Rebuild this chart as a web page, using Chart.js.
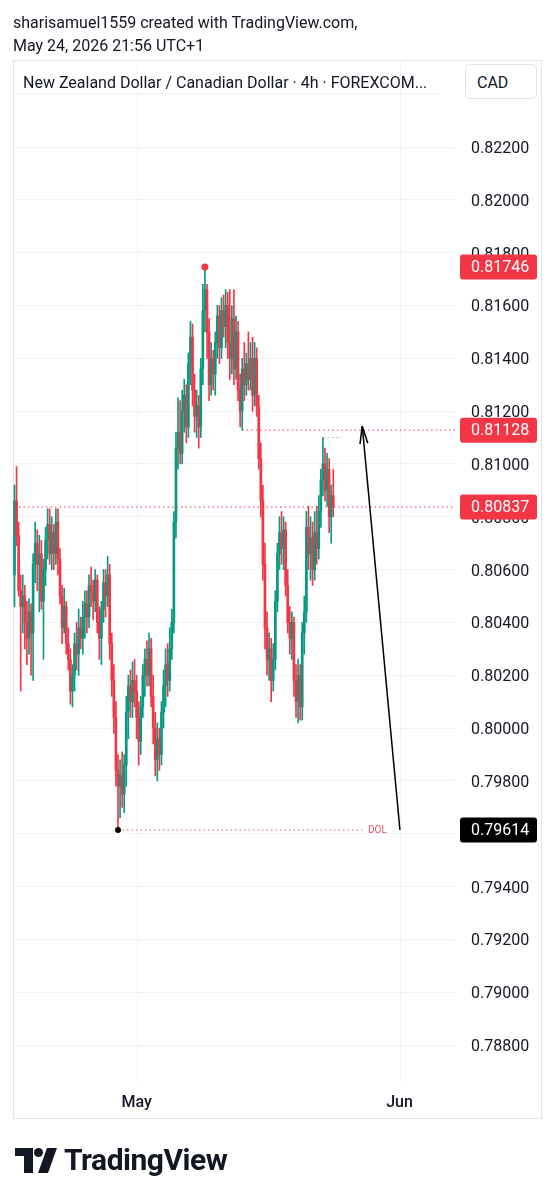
<!DOCTYPE html>
<html><head><meta charset="utf-8">
<script src="https://cdn.jsdelivr.net/npm/chart.js@4.4.1/dist/chart.umd.min.js"></script>
<style>
html,body{margin:0;padding:0;background:#fff;width:556px;height:1200px;overflow:hidden;font-family:Roboto,sans-serif;}
#wrap{position:relative;width:556px;height:1200px;}
#c{position:absolute;left:0;top:0;}
.t{position:absolute;white-space:nowrap;color:#131722;}
</style></head><body>
<div id="wrap">
<canvas id="c" width="556" height="1200"></canvas>
<div class="t" style="left:13px;top:11px;font-size:16px;line-height:23px;">sharisamuel1559 created with TradingView.com,<br>May 24, 2026 21:56 UTC+1</div>
<div class="t" style="left:23px;top:73px;font-size:16px;line-height:20px;">New Zealand Dollar / Canadian Dollar · 4h · FOREXCOM...</div>
<div class="t" style="left:465px;top:64px;width:70px;height:33px;border:1px solid #e0e3eb;border-radius:5px;font-size:16px;line-height:35px;text-indent:11px;background:#fff;">CAD</div>
<svg style="position:absolute;left:15px;top:1148px" width="42" height="25" viewBox="0 0 42 25">
 <path d="M0 0H18V25H9V8H0Z" fill="#131722"/>
 <circle cx="23.5" cy="4.5" r="4.5" fill="#131722"/>
 <path d="M32 0H42L33 25H23Z" fill="#131722"/>
</svg>
<div class="t" style="left:64px;top:1143px;font-size:30px;line-height:34px;font-weight:700;letter-spacing:-0.5px;">TradingView</div>
</div>
<script>
const opens = [0.8058,0.8086,0.8073,0.8052,0.8046,0.8050,0.8040,0.8034,0.8044,0.8036,
0.8062,0.8070,0.8062,0.8066,0.8048,0.8060,0.8071,0.8077,0.8066,0.8074,
0.8066,0.8078,0.8064,0.8050,0.8038,0.8046,0.8032,0.8026,0.8014,0.8020,
0.8032,0.8028,0.8038,0.8034,0.8042,0.8047,0.8042,0.8054,0.8052,0.8048,
0.8056,0.8040,0.8034,0.8045,0.8055,0.8050,0.8058,0.8032,0.8018,0.8004,
0.7984,0.7978,0.7982,0.7975,0.7986,0.8006,0.8016,0.8010,0.8018,0.8014,
0.8004,0.7995,0.8008,0.8020,0.8026,0.8020,0.8030,0.8012,0.8000,0.7988,
0.7996,0.7990,0.8006,0.8016,0.8024,0.8018,0.8030,0.8040,0.8078,0.8106,
0.8112,0.8104,0.8120,0.8126,0.8114,0.8138,0.8148,0.8128,0.8118,0.8122,
0.8114,0.8136,0.8158,0.8166,0.8150,0.8130,0.8140,0.8134,0.8146,0.8156,
0.8144,0.8158,0.8152,0.8160,0.8146,0.8140,0.8155,0.8136,0.8150,0.8128,
0.8120,0.8136,0.8130,0.8138,0.8132,0.8140,0.8126,0.8140,0.8122,0.8102,
0.8086,0.8062,0.8038,0.8026,0.8030,0.8018,0.8026,0.8048,0.8066,0.8074,
0.8068,0.8075,0.8054,0.8040,0.8034,0.8040,0.8018,0.8010,0.8020,0.8008,
0.8036,0.8044,0.8076,0.8066,0.8072,0.8060,0.8074,0.8068,0.8082,0.8094,
0.8100,0.8090,0.8098,0.8080,0.8088];
const highs = [0.8092,0.8099,0.8078,0.8058,0.8058,0.8054,0.8048,0.8049,0.8047,0.8066,
0.8078,0.8075,0.8073,0.8071,0.8064,0.8076,0.8083,0.8083,0.8080,0.8077,
0.8083,0.8083,0.8068,0.8054,0.8053,0.8048,0.8038,0.8030,0.8024,0.8036,
0.8040,0.8045,0.8042,0.8048,0.8052,0.8052,0.8058,0.8061,0.8056,0.8060,
0.8058,0.8046,0.8048,0.8060,0.8060,0.8065,0.8062,0.8036,0.8024,0.8010,
0.7990,0.7988,0.7991,0.7990,0.8012,0.8020,0.8022,0.8025,0.8026,0.8020,
0.8010,0.8012,0.8024,0.8030,0.8033,0.8036,0.8034,0.8020,0.8006,0.8002,
0.8000,0.8010,0.8022,0.8030,0.8032,0.8038,0.8045,0.8082,0.8112,0.8125,
0.8124,0.8128,0.8132,0.8130,0.8142,0.8154,0.8153,0.8134,0.8128,0.8126,
0.8140,0.8168,0.81746,0.8168,0.8155,0.8146,0.8143,0.8150,0.8160,0.8160,
0.8163,0.8164,0.8166,0.8165,0.8166,0.8160,0.8166,0.8156,0.8154,0.8134,
0.8140,0.8146,0.8142,0.8150,0.8146,0.8148,0.8146,0.8144,0.8126,0.8108,
0.8092,0.8070,0.8044,0.8036,0.8034,0.8032,0.8052,0.8070,0.8080,0.8082,
0.8080,0.8078,0.8060,0.8046,0.8044,0.8042,0.8024,0.8026,0.8024,0.8040,
0.8050,0.8082,0.8084,0.8080,0.8078,0.8082,0.8084,0.8088,0.8098,0.8110,
0.8106,0.8104,0.8102,0.8092,0.8098];
const lows = [0.8046,0.8069,0.8050,0.8014,0.8036,0.8030,0.8024,0.8028,0.8020,0.8018,
0.8055,0.8052,0.8044,0.8045,0.8026,0.8054,0.8064,0.8062,0.8060,0.8060,
0.8062,0.8058,0.8047,0.8032,0.8036,0.8028,0.8022,0.8009,0.8008,0.8014,
0.8022,0.8020,0.8030,0.8028,0.8034,0.8036,0.8038,0.8046,0.8041,0.8044,
0.8036,0.8026,0.8024,0.8040,0.8042,0.8046,0.8026,0.8012,0.7998,0.7978,
0.79614,0.7966,0.7970,0.7968,0.7978,0.7996,0.8004,0.8004,0.8008,0.7996,
0.7986,0.7990,0.8004,0.8012,0.8016,0.8016,0.8008,0.7994,0.7982,0.7980,
0.7984,0.7986,0.8000,0.8008,0.8012,0.8014,0.8026,0.8036,0.8072,0.8098,
0.8100,0.8100,0.8112,0.8108,0.8110,0.8130,0.8122,0.8112,0.8110,0.8106,
0.8110,0.8130,0.8150,0.8140,0.8124,0.8126,0.8128,0.8126,0.8140,0.8138,
0.8140,0.8148,0.8144,0.8140,0.8132,0.8134,0.8130,0.8132,0.8124,0.8114,
0.81128,0.8124,0.8126,0.8128,0.8128,0.8120,0.8122,0.8118,0.8098,0.8080,
0.8056,0.8030,0.8020,0.8018,0.8010,0.8014,0.8022,0.8044,0.8060,0.8062,
0.8060,0.8050,0.8036,0.8028,0.8026,0.8012,0.8004,0.8002,0.8003,0.8003,
0.8028,0.8040,0.8060,0.8056,0.8054,0.8056,0.8062,0.8064,0.8076,0.8088,
0.8086,0.8084,0.8074,0.8070,0.8080];
const closes = [0.8086,0.8073,0.8052,0.8046,0.8050,0.8040,0.8034,0.8044,0.8036,0.8062,
0.8070,0.8062,0.8066,0.8048,0.8060,0.8071,0.8077,0.8066,0.8074,0.8066,
0.8078,0.8064,0.8050,0.8038,0.8046,0.8032,0.8026,0.8014,0.8020,0.8032,
0.8028,0.8038,0.8034,0.8042,0.8047,0.8042,0.8054,0.8052,0.8048,0.8056,
0.8040,0.8034,0.8045,0.8055,0.8050,0.8058,0.8032,0.8018,0.8004,0.7984,
0.7978,0.7982,0.7975,0.7986,0.8006,0.8016,0.8010,0.8018,0.8014,0.8004,
0.7995,0.8008,0.8020,0.8026,0.8020,0.8030,0.8012,0.8000,0.7988,0.7996,
0.7990,0.8006,0.8016,0.8024,0.8018,0.8030,0.8040,0.8078,0.8106,0.8112,
0.8104,0.8120,0.8126,0.8114,0.8138,0.8148,0.8128,0.8118,0.8122,0.8114,
0.8136,0.8158,0.8166,0.8150,0.8130,0.8140,0.8134,0.8146,0.8156,0.8144,
0.8158,0.8152,0.8160,0.8146,0.8140,0.8155,0.8136,0.8150,0.8128,0.8120,
0.8136,0.8130,0.8138,0.8132,0.8140,0.8126,0.8140,0.8122,0.8102,0.8086,
0.8062,0.8038,0.8026,0.8030,0.8018,0.8026,0.8048,0.8066,0.8074,0.8068,
0.8075,0.8054,0.8040,0.8034,0.8040,0.8018,0.8010,0.8020,0.8008,0.8036,
0.8044,0.8076,0.8066,0.8072,0.8060,0.8074,0.8068,0.8082,0.8094,0.8100,
0.8090,0.8098,0.8080,0.8088,0.80837];

const priceTicks = [0.788,0.790,0.792,0.794,0.796,0.798,0.800,0.802,0.804,0.806,0.808,0.810,0.812,0.814,0.816,0.818,0.820,0.822];
const timeLabels = ['May','Jun'];
const timeLabelIdx = [59,186];
const lastPrice = 0.80837;
const peakPrice = 0.81746, peakIdx = 92;
const lowPrice = 0.79614, lowIdx = 50;
const levelPrice = 0.81128, levelStartIdx = 110;
const recentHighPrice = 0.8110, recentHighSpan = [149,158];
const dolEndIdx = 168, dolLabelIdx = 170.8;
const arrowTail = {x:186.2, y:0.79614};
const arrowTip = {x:168, y:0.81143};
const priceTags = [
  {v:0.81746, bg:'#f23645'},
  {v:0.81128, bg:'#f23645'},
  {v:0.80837, bg:'#f23645'},
  {v:0.79614, bg:'#000000'}
];
const xMin = -0.72, xMax = 212.8, yMin = 0.7866, yMax = 0.82378;

const GREEN = '#089981', RED = '#f23645';
const idx = opens.map((_, i) => i);
const colors = idx.map(i => closes[i] >= opens[i] ? GREEN : RED);

const deco = {
  id: 'deco',
  beforeDraw(chart) {
    const c = chart.ctx, ca = chart.chartArea, xs = chart.scales.x;
    c.save();
    c.fillStyle = '#fff'; c.fillRect(0, 0, 556, 1200);
    c.strokeStyle = '#f0f3fa'; c.lineWidth = 1;
    timeLabelIdx.forEach(v => {
      const px = Math.round(xs.getPixelForValue(v)) + 0.5;
      c.beginPath(); c.moveTo(px, 61); c.lineTo(px, ca.bottom); c.stroke();
    });
    c.beginPath(); c.moveTo(13, 93.5); c.lineTo(440, 93.5); c.stroke();
    c.strokeStyle = '#e0e3eb';
    c.strokeRect(13.5, 60.5, 528, 1058);
    c.restore();
  },
  afterDatasetsDraw(chart) {
    const c = chart.ctx, xs = chart.scales.x, ys = chart.scales.y;
    c.save();
    const tx = xs.getPixelForValue(arrowTip.x), ty = ys.getPixelForValue(arrowTip.y);
    const bx = xs.getPixelForValue(arrowTail.x), by = ys.getPixelForValue(arrowTail.y);
    let dx = bx - tx, dy = by - ty; const len = Math.hypot(dx, dy); dx /= len; dy /= len;
    c.strokeStyle = '#000'; c.lineWidth = 1.5;
    [0.22, -0.22].forEach(a => {
      const rx = dx * Math.cos(a) - dy * Math.sin(a), ry = dx * Math.sin(a) + dy * Math.cos(a);
      c.beginPath(); c.moveTo(tx, ty); c.lineTo(tx + rx * 18, ty + ry * 18); c.stroke();
    });
    c.fillStyle = '#e0566a'; c.font = '10px Roboto'; c.textBaseline = 'middle'; c.textAlign = 'left';
    c.fillText('DOL', xs.getPixelForValue(dolLabelIdx), ys.getPixelForValue(lowPrice) + 0.5);
    c.restore();
  },
  afterDraw(chart) {
    const c = chart.ctx, ys = chart.scales.y, ca = chart.chartArea;
    c.save();
    priceTags.forEach(t => {
      const y = ys.getPixelForValue(t.v);
      c.fillStyle = t.bg;
      c.beginPath(); c.roundRect(ca.right + 5, y - 12.5, 77, 25, 3); c.fill();
      c.fillStyle = '#fff'; c.font = '16px Roboto'; c.textBaseline = 'middle'; c.textAlign = 'left';
      c.fillText(t.v.toFixed(5), ca.right + 16, y + 1);
    });
    c.restore();
  }
};

const dotted = (pts, color, w) => ({type:'line', data:pts, borderColor:color, borderWidth:w||1, borderDash:[1.5,3], pointRadius:0, fill:false, order:5});

new Chart(document.getElementById('c'), {
  type: 'bar',
  data: { datasets: [
    dotted([{x:0,y:lastPrice},{x:xMax,y:lastPrice}], RED),
    dotted([{x:levelStartIdx,y:levelPrice},{x:xMax,y:levelPrice}], RED),
    dotted([{x:lowIdx,y:lowPrice},{x:dolEndIdx,y:lowPrice}], '#e0566a'),
    dotted([{x:recentHighSpan[0],y:recentHighPrice},{x:recentHighSpan[1],y:recentHighPrice}], '#c9a0a6'),
    {type:'bar', data: idx.map(i => ({x:i, y:[lows[i], highs[i]]})), backgroundColor: colors, barThickness: 1, grouped: false, order: 3},
    {type:'bar', data: idx.map(i => ({x:i, y:[opens[i], closes[i]]})), backgroundColor: colors, barThickness: 2, grouped: false, minBarLength: 1, order: 2},
    {type:'line', data:[arrowTail, arrowTip], borderColor:'#000', borderWidth:1.5, pointRadius:0, fill:false, order:1},
    {type:'scatter', data:[{x:peakIdx,y:peakPrice}], pointRadius:3.5, backgroundColor:RED, borderWidth:0, order:0},
    {type:'scatter', data:[{x:lowIdx,y:lowPrice}], pointRadius:3, backgroundColor:'#000', borderWidth:0, order:0}
  ]},
  options: {
    animation: false, responsive: false, events: [],
    layout: { padding: { left: 13, right: 15, top: 100, bottom: 82 } },
    plugins: { legend: { display: false }, tooltip: { enabled: false } },
    scales: {
      x: {
        type: 'linear', min: xMin, max: xMax, offset: false,
        grid: { display: false, drawTicks: false }, border: { display: false },
        afterBuildTicks: s => { s.ticks = timeLabelIdx.map(v => ({ value: v })); },
        afterFit: s => { s.height = 36; },
        ticks: { callback: v => { const k = timeLabelIdx.indexOf(v); return k >= 0 ? timeLabels[k] : ''; },
                 font: { family: 'Roboto', size: 16, weight: '500' }, color: '#131722', padding: 11, maxRotation: 0, autoSkip: false }
      },
      y: {
        position: 'right', min: yMin, max: yMax,
        grid: { color: '#f0f3fa', drawTicks: false }, border: { display: false },
        afterBuildTicks: s => { s.ticks = priceTicks.map(v => ({ value: v })); },
        afterFit: s => { s.width = 86; },
        ticks: { callback: v => v.toFixed(5), font: { family: 'Roboto', size: 16 }, color: '#131722', padding: 16, labelOffset: 2, autoSkip: false }
      }
    }
  },
  plugins: [deco]
});
</script>
</body></html>
